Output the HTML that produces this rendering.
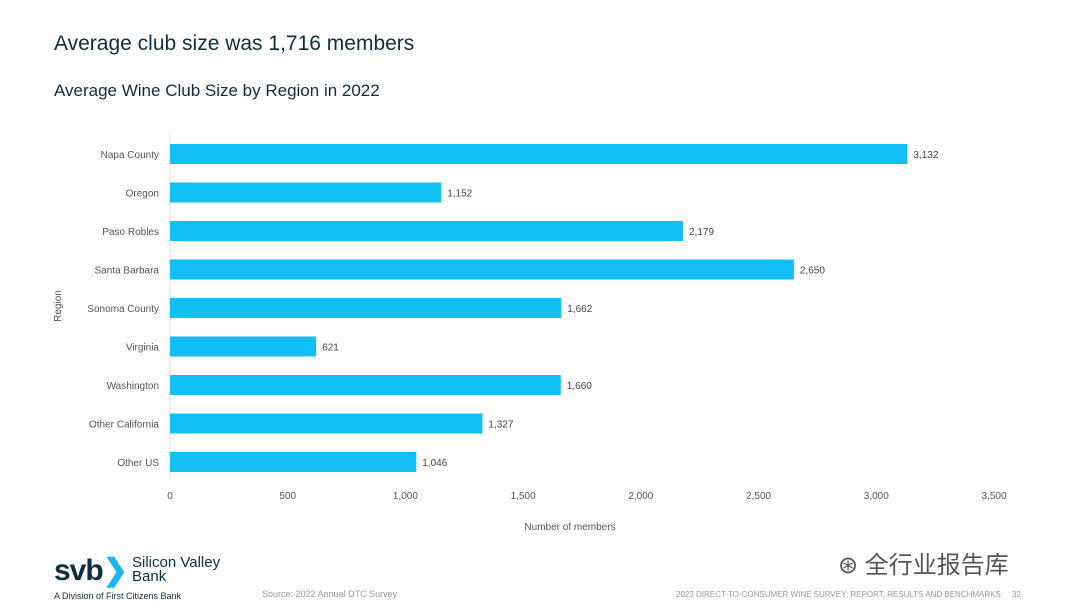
<!DOCTYPE html>
<html><head><meta charset="utf-8"><style>
body{margin:0;width:1080px;height:608px;background:#fff;font-family:"Liberation Sans","Noto Sans CJK SC",sans-serif;position:relative;overflow:hidden}
.t{position:absolute;white-space:nowrap}
</style></head><body>
<div class="t" style="left:54px;top:32px;font-size:21px;color:#0f2e3f">Average club size was 1,716 members</div>
<div class="t" style="left:54px;top:81px;font-size:17px;color:#0f2e3f">Average Wine Club Size by Region in 2022</div>
<svg id="chart" width="1080" height="608" style="position:absolute;left:0;top:0" font-family="Liberation Sans, sans-serif"></svg>
<div class="t" style="left:54px;top:553px;font-size:30px;font-weight:bold;color:#0f2e3f;letter-spacing:-1px">svb<span style="color:#19b6f0">❯</span></div>
<div class="t" style="left:132px;top:556px;font-size:15px;line-height:14px;color:#0f2e3f">Silicon Valley<br>Bank</div>
<div class="t" style="left:54px;top:591px;font-size:9px;color:#0f2e3f">A Division of First Citizens Bank</div>
<div class="t" style="left:262px;top:589px;font-size:9px;color:#999">Source: 2022 Annual DTC Survey</div>
<div class="t" style="left:676px;top:590px;font-size:8px;color:#999">2023 DIRECT-TO-CONSUMER WINE SURVEY: REPORT, RESULTS AND BENCHMARKS &nbsp;&nbsp;&nbsp; 32</div>
<div class="t" style="left:838px;top:545px;font-size:24px;color:#555;font-family:'Liberation Sans','Noto Sans CJK SC',sans-serif">⊛ 全行业报告库</div>
<script>
const categories=["Napa County","Oregon","Paso Robles","Santa Barbara","Sonoma County","Virginia","Washington","Other California","Other US"];
const values=[3132,1152,2179,2650,1662,621,1660,1327,1046];
const ticks=[0,500,1000,1500,2000,2500,3000,3500];
const svg=document.getElementById('chart');
const NS='http://www.w3.org/2000/svg';
const x0=170,x1=994,xmax=3500,y0=135,step=38.5;
const xs=v=>x0+(v/xmax)*(x1-x0);
const yc=i=>154+i*step;
function mk(tag,a,txt){const e=document.createElementNS(NS,tag);for(const k in a)e.setAttribute(k,a[k]);if(txt!==undefined)e.textContent=txt;svg.appendChild(e);return e;}
let ax=mk('line',{x1:x0,x2:x0,y1:y0,y2:478,stroke:'#ddd','stroke-width':1});


categories.forEach((c,i)=>{
 let r=mk('rect',{x:x0,y:yc(i)-10,width:xs(values[i])-x0,height:20,fill:'#12bff5'});
 
 
 let l=mk('text',{x:159,y:yc(i)+4,'text-anchor':'end','font-size':10,fill:'#555'},c);
 
 
 let v=mk('text',{x:xs(values[i])+6,y:yc(i)+4,'font-size':10,fill:'#444'},values[i].toLocaleString('en-US'));
 
 
});
ticks.forEach(t=>{
 let e=mk('text',{x:xs(t),y:499,'text-anchor':'middle','font-size':10,fill:'#555'},t.toLocaleString('en-US'));
 
 
});
let xt=mk('text',{x:570,y:530,'text-anchor':'middle','font-size':10,fill:'#555'},'Number of members');


let yt=mk('text',{x:61,y:306,'text-anchor':'middle','font-size':10,fill:'#555',transform:'rotate(-90 61 306)'},'Region');


</script>
</body></html>
